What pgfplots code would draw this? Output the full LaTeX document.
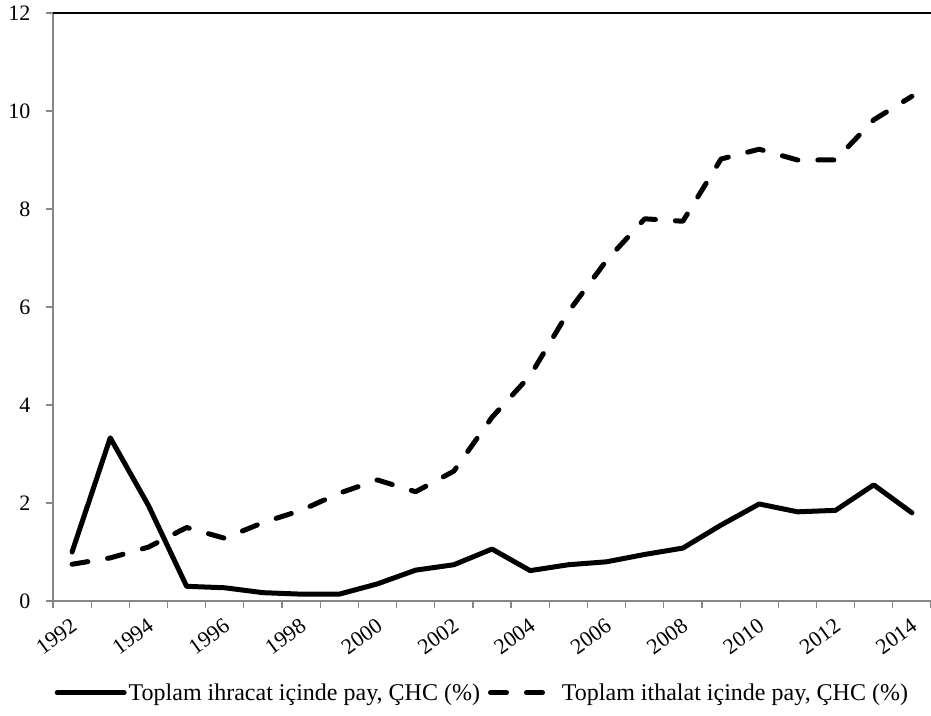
\documentclass[border=0pt]{standalone}
\usepackage{pgfplots}
\usepackage{pgfplotstable}
\pgfplotsset{compat=1.18}
\usepackage{fontspec}
\setmainfont{Liberation Serif}

\pgfplotstableread{
x exp imp
0  1.00 0.75
1  3.33 0.88
2  1.95 1.10
3  0.30 1.50
4  0.27 1.28
5  0.17 1.60
6  0.14 1.85
7  0.14 2.20
8  0.35 2.47
9  0.63 2.23
10 0.74 2.65
11 1.06 3.75
12 0.62 4.60
13 0.74 5.90
14 0.80 6.95
15 0.95 7.80
16 1.08 7.75
17 1.55 9.02
18 1.98 9.22
19 1.82 9.00
20 1.85 9.00
21 2.37 9.82
22 1.80 10.30
}\data

\definecolor{axgray}{RGB}{134,134,134}
\newcommand{\tickfont}{\fontsize{22}{26}\selectfont}

\begin{document}
\begin{tikzpicture}
\begin{axis}[
  scale only axis,
  width=878pt, height=588pt,
  xmin=-0.5, xmax=22.5, ymin=0, ymax=12,
  axis lines*=left,
  axis line style={axgray, line width=1.2pt},
  ytick={0,2,...,12},
  xtick={0,2,...,22},
  xticklabels={1992,1994,1996,1998,2000,2002,2004,2006,2008,2010,2012,2014},
  minor xtick={-0.5,0.5,...,22.5},
  major x tick style={draw=none},
  minor x tick style={axgray, line width=1.2pt},
  xticklabel style={font=\tickfont, xshift=-2pt, yshift=-8pt, rotate=36, anchor=north east, inner sep=1pt},
  tick align=outside,
  major tick length=7pt,
  minor tick length=7pt,
  tick style={axgray, line width=1.2pt},
  /pgf/number format/assume math mode=true,
  yticklabel style={font=\tickfont, xshift=-12pt},
  legend columns=2,
  legend style={draw=none, at={(0.489,-0.156)}, anchor=center,
     font=\fontsize{24}{28}\selectfont,
     /tikz/every even column/.append style={column sep=6pt},
     inner sep=0pt},
  legend image code/.code={\draw[#1, line cap=round] (0pt,0pt) -- (67pt,0pt);},
]
\addplot[black, line width=5pt, line join=round, line cap=round] table[x=x, y=exp] {\data};
\addlegendentry{Toplam ihracat içinde pay, ÇHC (\%)}
\addplot[black, line width=5pt, line join=round, line cap=round, dash pattern=on 16pt off 20pt] table[x=x, y=imp] {\data};
\addlegendentry{Toplam ithalat içinde pay, ÇHC (\%)}
\draw[black, line width=1.2pt] (rel axis cs:0,1) -- (rel axis cs:1,1);
\end{axis}
\pgfresetboundingbox
\path ([shift={(-53pt,-114pt)}]current axis.south west) rectangle ([shift={(0pt,13pt)}]current axis.north east);
\end{tikzpicture}
\end{document}
